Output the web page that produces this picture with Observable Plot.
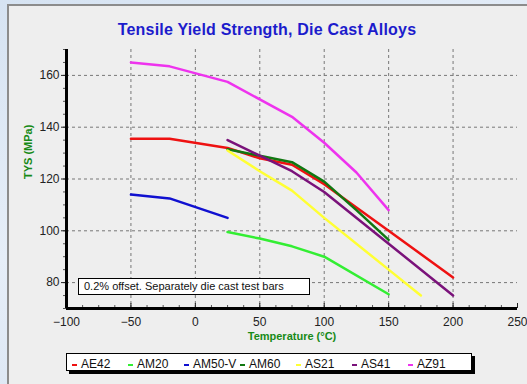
<!DOCTYPE html>
<html>
<head>
<meta charset="utf-8">
<script src="https://cdn.jsdelivr.net/npm/d3@7"></script>
<script src="https://cdn.jsdelivr.net/npm/@observablehq/plot@0.6"></script>
<style>
  html, body { margin: 0; padding: 0; overflow: hidden; width: 100%; height: 100%; }
  body {
    position: relative;
    background: linear-gradient(160deg, #d6e3f2 0%, #e6eef8 45%, #d3e0f0 100%);
    font-family: "Liberation Sans", Arial, sans-serif;
  }
  #panel {
    position: absolute; left: 7px; top: 4px; right: -40px; bottom: -40px;
    background: #eeeeee; border: 2px solid #8c8c8c;
  }
  #title {
    position: absolute; left: 0; width: 534px; top: 21px; text-align: center;
    font-size: 16px; font-weight: bold; color: #1c1ccc; letter-spacing: 0.2px;
  }
  #chart { position: absolute; left: 0; top: 45px; }
  #chart svg { display: block; }
  #note {
    position: absolute; left: 78px; top: 278px; width: 232px; height: 17px;
    box-sizing: border-box; border: 1px solid #000; background: #fff;
    font-size: 11px; line-height: 15px; padding-left: 5px; color: #111;
  }
  #legend {
    position: absolute; left: 66px; top: 353px; width: 406px; height: 18px;
    box-sizing: border-box; border: 1px solid #000; background: #fff;
    box-shadow: 3px 3px 0 #000; padding-left: 5px; white-space: nowrap;
  }
  .item { display: inline-block; width: 56px; font-size: 12px; line-height: 16px; color: #111; }
  .swatch { display: inline-block; width: 5px; height: 2px; vertical-align: middle; margin-right: 4px; }
</style>
</head>
<body>
<div id="panel"></div>
<div id="title">Tensile Yield Strength, Die Cast Alloys</div>
<div id="chart"></div>
<div id="legend"></div>
<div id="note">0.2% offset. Separately die cast test bars</div>
<script>
// Alloy series and their colours
const alloys = ["AE42", "AM20", "AM50-V", "AM60", "AS21", "AS41", "AZ91"];
const colors = ["#ee1111", "#33ee33", "#1010d0", "#117711", "#ffff33", "#7a127a", "#ee33ee"];

// Temperature (°C) and tensile yield strength (MPa) per alloy
const ae42Temp = [-50, -20, 25, 50, 75, 100, 150, 200];
const ae42TYS  = [135.5, 135.5, 132, 128, 125.5, 118, 100, 82];
const am20Temp = [25, 50, 75, 100, 150];
const am20TYS  = [99.5, 97, 94, 90, 75.5];
const am50vTemp = [-50, -20, 25];
const am50vTYS  = [114, 112.5, 105];
const am60Temp = [25, 50, 75, 100, 125, 150];
const am60TYS  = [131.5, 129, 126.5, 119, 108, 96.5];
const as21Temp = [25, 50, 75, 100, 150, 175];
const as21TYS  = [131, 123, 115.5, 105, 85, 75];
const as41Temp = [25, 50, 75, 100, 150, 200];
const as41TYS  = [135, 129, 123, 115, 95, 75];
const az91Temp = [-50, -20, 25, 75, 100, 125, 150];
const az91TYS  = [165, 163.5, 157.5, 144, 134, 122.5, 108];

// Axis ticks
const xTicks = [-100, -50, 0, 50, 100, 150, 200, 250];
const yTicks = [80, 100, 120, 140, 160];
const xMinor = d3.range(-100, 250.1, 12.5);
const yMinor = d3.range(70, 170.1, 5);

const series = [
  [ae42Temp, ae42TYS], [am20Temp, am20TYS], [am50vTemp, am50vTYS], [am60Temp, am60TYS],
  [as21Temp, as21TYS], [as41Temp, as41TYS], [az91Temp, az91TYS]
];
const rows = series.flatMap(([t, v], i) => t.map((x, j) => ({alloy: alloys[i], t: x, v: v[j]})));

const labelColor = "#178a17";
const chart = Plot.plot({
  width: 527,
  height: 300,
  marginLeft: 66,
  marginRight: 10,
  marginTop: 4,
  marginBottom: 37,
  style: {background: "transparent", fontFamily: "Liberation Sans, Arial, sans-serif", fontSize: "12px", color: "#222"},
  x: {domain: [-100, 250]},
  y: {domain: [70, 170]},
  color: {domain: alloys, range: colors},
  marks: [
    Plot.gridX({ticks: xTicks.slice(1, -1), stroke: "#777", strokeOpacity: 1, strokeDasharray: "3,3"}),
    Plot.gridY({ticks: yTicks, stroke: "#777", strokeOpacity: 1, strokeDasharray: "3,3"}),
    Plot.axisY({ticks: yMinor, tickSize: 3, text: null, label: null, stroke: "#555"}),
    Plot.axisY({ticks: yTicks, tickSize: 5, tickPadding: 2, label: null, fontSize: 12, fill: "#222"}),
    Plot.axisX({ticks: xMinor, tickSize: -3, text: null, label: null, stroke: "#555"}),
    Plot.axisX({ticks: xTicks, tickSize: -5, text: null, label: null}),
    Plot.axisX({ticks: xTicks, tickSize: 0, tickPadding: 9, label: null, fontSize: 12, fill: "#222"}),
    Plot.line(rows, {x: "t", y: "v", z: "alloy", stroke: "alloy", strokeWidth: 2.5}),
    Plot.ruleX([-100], {stroke: "#000", strokeWidth: 3}),
    Plot.ruleY([70], {stroke: "#000", strokeWidth: 3}),
    Plot.text(["TYS (MPa)"], {frameAnchor: "left", rotate: -90, dx: -38, fill: labelColor, fontWeight: "bold", fontSize: 11}),
    Plot.text(["Temperature (°C)"], {frameAnchor: "bottom", dy: 31, fill: labelColor, fontWeight: "bold", fontSize: 11})
  ]
});
document.getElementById("chart").appendChild(chart);

// Legend
const legend = document.getElementById("legend");
alloys.forEach((name, i) => {
  const item = document.createElement("span");
  item.className = "item";
  const sw = document.createElement("span");
  sw.className = "swatch";
  sw.style.background = colors[i];
  item.appendChild(sw);
  item.appendChild(document.createTextNode(name));
  legend.appendChild(item);
});
</script>
</body>
</html>
